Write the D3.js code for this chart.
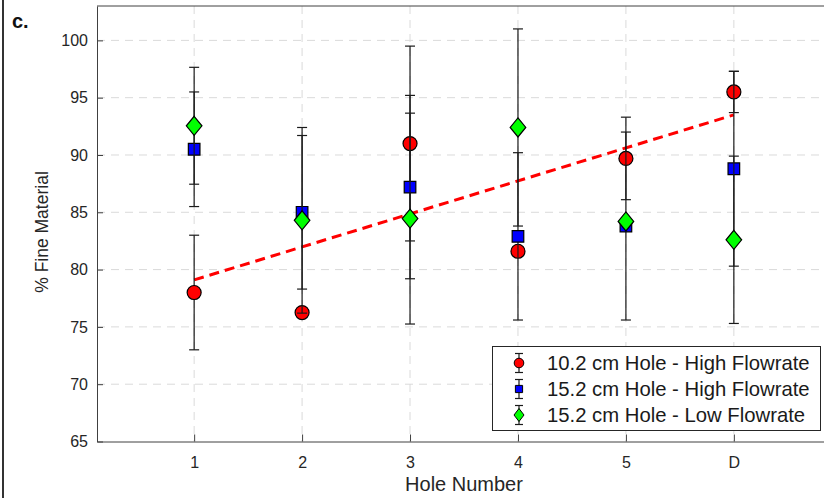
<!DOCTYPE html>
<html>
<head>
<meta charset="utf-8">
<script src="https://cdn.jsdelivr.net/npm/d3@7"></script>
<style>
  body { margin: 0; background: #fff; }
  svg { display: block; font-family: "Liberation Sans", Arial, sans-serif; }
</style>
</head>
<body>
<svg id="chart" width="824" height="498"></svg>
<script>
// ==== data ====
const holes = ['1', '2', '3', '4', '5', 'D'];
const yTicks = [65, 70, 75, 80, 85, 90, 95, 100];

const redMean   = [78.0, 76.25, 91.0, 81.6, 89.7, 95.5];
const redErr    = [5.0, 0.3, 8.5, 0.3, 3.6, 1.8];
const blueMean  = [90.5, 85.0, 87.2, 82.9, 83.8, 88.8];
const blueErr   = [5.0, 6.7, 8.0, 7.3, 8.2, 8.5];
const greenMean = [92.55, 84.3, 84.45, 92.4, 84.2, 82.6];
const greenErr  = [5.1, 8.1, 9.2, 8.6, 0.3, 7.3];

const trendX = [1, 6];
const trendY = [79.1, 93.5];

const seriesNames = [
  '10.2 cm Hole - High Flowrate',
  '15.2 cm Hole - High Flowrate',
  '15.2 cm Hole - Low Flowrate'
];

// ==== layout ====
const svg = d3.select('#chart');
const pL = 97, pR = 831, pT = 6, pB = 441.5;

const x = d3.scaleLinear().domain([0.1, 6.9]).range([pL, pR]);
const y = d3.scaleLinear().domain([65, 103]).range([pB, pT]);

// grid
const grid = svg.append('g')
  .attr('stroke', '#dadada')
  .attr('stroke-width', 1)
  .attr('stroke-dasharray', '8,6');
grid.selectAll('.gx').data(holes).join('line')
  .attr('x1', (d, i) => x(i + 1)).attr('x2', (d, i) => x(i + 1))
  .attr('y1', pT).attr('y2', pB);
grid.selectAll('.gy').data(yTicks.slice(1)).join('line')
  .attr('x1', pL).attr('x2', pR)
  .attr('y1', d => y(d)).attr('y2', d => y(d));

// axes
const axisColor = '#404040';
const gx = svg.append('g')
  .attr('transform', `translate(0,${pB})`)
  .call(d3.axisBottom(x)
    .tickValues(holes.map((d, i) => i + 1))
    .tickFormat((d, i) => holes[i])
    .tickSizeInner(-7).tickSizeOuter(0).tickPadding(15));
const gy = svg.append('g')
  .attr('transform', `translate(${pL},0)`)
  .call(d3.axisLeft(y)
    .tickValues(yTicks)
    .tickSizeInner(-6).tickSizeOuter(0).tickPadding(9));
[gx, gy].forEach(g => {
  g.select('.domain').attr('stroke', axisColor);
  g.selectAll('.tick line').attr('stroke', axisColor);
  g.selectAll('.tick text')
    .attr('fill', '#262626')
    .style('font-size', '16px')
    .style('font-family', '"Liberation Sans", Arial, sans-serif');
});
gx.selectAll('.tick text').attr('dy', '0.71em');

// box top
svg.append('line')
  .attr('x1', pL).attr('x2', pR)
  .attr('y1', pT).attr('y2', pT)
  .attr('stroke', axisColor);

// trend line
svg.append('line')
  .attr('x1', x(trendX[0])).attr('y1', y(trendY[0]))
  .attr('x2', x(trendX[1])).attr('y2', y(trendY[1]))
  .attr('stroke', '#ff0000')
  .attr('stroke-width', 3)
  .attr('stroke-dasharray', '10,6');

// markers
const symCircle = r => `M${-r},0A${r},${r} 0 1,0 ${r},0A${r},${r} 0 1,0 ${-r},0Z`;
const symSquare = s => `M${-s},${-s}H${s}V${s}H${-s}Z`;
const symDiamond = (w, h) => `M0,${-h}L${w},0L0,${h}L${-w},0Z`;

const series = [
  { mean: redMean,   err: redErr,   fill: '#ff0000', path: symCircle(7),        legPath: symCircle(4.8) },
  { mean: blueMean,  err: blueErr,  fill: '#0000ff', path: symSquare(5.8),      legPath: symSquare(3.6) },
  { mean: greenMean, err: greenErr, fill: '#00ff00', path: symDiamond(7.8, 9.5), legPath: symDiamond(5, 6.5) }
];

const capW = 5;
series.forEach(s => {
  const g = svg.append('g');
  const rows = s.mean.map((m, i) => ({ xi: i + 1, m, e: s.err[i] }));
  const eb = g.append('g').attr('stroke', '#1a1a1a').attr('stroke-width', 1.2);
  eb.selectAll('.v').data(rows).join('line')
    .attr('x1', d => x(d.xi)).attr('x2', d => x(d.xi))
    .attr('y1', d => y(d.m - d.e)).attr('y2', d => y(d.m + d.e));
  eb.selectAll('.cl').data(rows).join('line')
    .attr('x1', d => x(d.xi) - capW).attr('x2', d => x(d.xi) + capW)
    .attr('y1', d => y(d.m - d.e)).attr('y2', d => y(d.m - d.e));
  eb.selectAll('.cu').data(rows).join('line')
    .attr('x1', d => x(d.xi) - capW).attr('x2', d => x(d.xi) + capW)
    .attr('y1', d => y(d.m + d.e)).attr('y2', d => y(d.m + d.e));
  g.selectAll('path').data(rows).join('path')
    .attr('d', s.path)
    .attr('transform', d => `translate(${x(d.xi)},${y(d.m)})`)
    .attr('fill', s.fill)
    .attr('stroke', '#000')
    .attr('stroke-width', 1.2);
});

// legend
const leg = svg.append('g');
leg.append('rect')
  .attr('x', 492.5).attr('y', 346.5)
  .attr('width', 328).attr('height', 84)
  .attr('fill', '#fff')
  .attr('stroke', '#262626').attr('stroke-width', 1);
series.forEach((s, i) => {
  const cy = 363 + i * 26, cx = 519;
  const r = leg.append('g').attr('stroke', '#1a1a1a').attr('stroke-width', 1.2);
  r.append('line').attr('x1', cx).attr('x2', cx).attr('y1', cy - 9.5).attr('y2', cy + 9.5);
  r.append('line').attr('x1', cx - 4).attr('x2', cx + 4).attr('y1', cy - 9.5).attr('y2', cy - 9.5);
  r.append('line').attr('x1', cx - 4).attr('x2', cx + 4).attr('y1', cy + 9.5).attr('y2', cy + 9.5);
  leg.append('path')
    .attr('d', s.legPath)
    .attr('transform', `translate(${cx},${cy})`)
    .attr('fill', s.fill).attr('stroke', '#000').attr('stroke-width', 1);
  leg.append('text')
    .attr('x', 547).attr('y', cy)
    .attr('dy', '0.36em')
    .attr('fill', '#1a1a1a')
    .style('font-size', '20.3px')
    .text(seriesNames[i]);
});

// labels
svg.append('text')
  .attr('x', (pL + pR) / 2).attr('y', 491)
  .attr('text-anchor', 'middle')
  .attr('fill', '#262626')
  .style('font-size', '20px')
  .text('Hole Number');

svg.append('text')
  .attr('transform', 'translate(48,232) rotate(-90)')
  .attr('text-anchor', 'middle')
  .attr('fill', '#262626')
  .style('font-size', '17.5px')
  .text('% Fine Material');

svg.append('text')
  .attr('x', 12).attr('y', 28)
  .attr('fill', '#111')
  .style('font-size', '20px')
  .style('font-weight', 'bold')
  .text('c.');

// panel frame
svg.append('line')
  .attr('x1', 3).attr('x2', 3).attr('y1', 0).attr('y2', 498)
  .attr('stroke', '#333').attr('stroke-width', 2);
</script>
</body>
</html>
